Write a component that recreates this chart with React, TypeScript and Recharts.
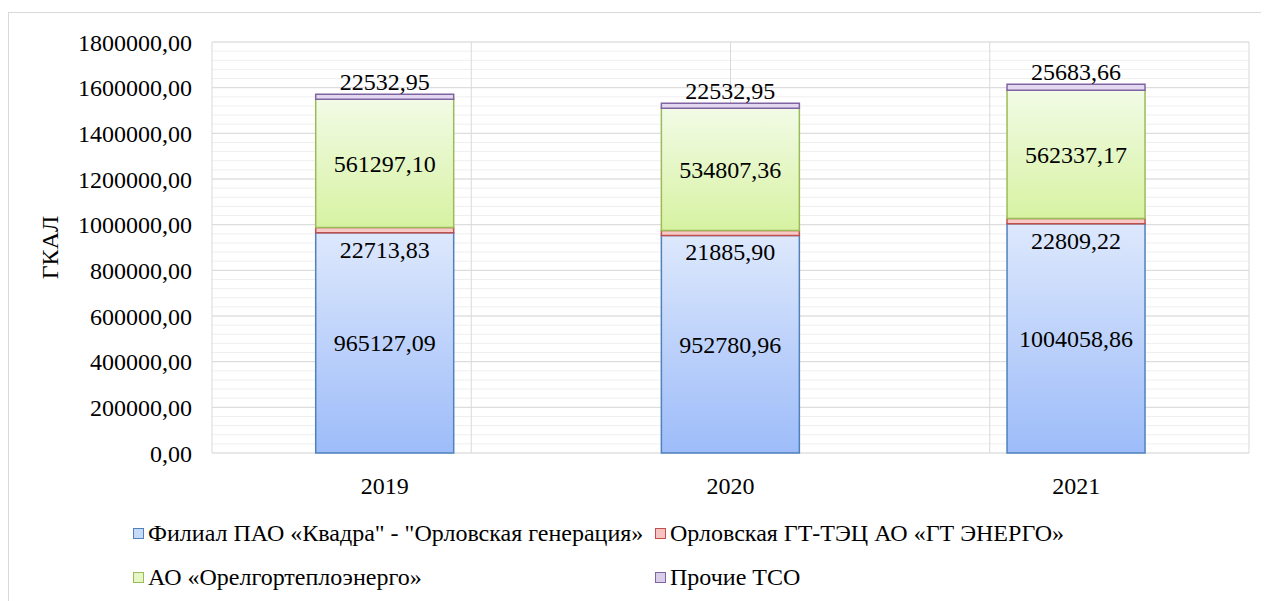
import React from 'react';
import { BarChart, Bar, XAxis, YAxis, CartesianGrid, Legend, LabelList } from 'recharts';

const YEARS = ['2019', '2020', '2021'];
const KVADRA = [965127.09, 952780.96, 1004058.86];
const GT_ENERGO = [22713.83, 21885.9, 22809.22];
const ORELGORTEPLO = [561297.1, 534807.36, 562337.17];
const OTHER_TSO = [22532.95, 22532.95, 25683.66];

const SERIES_NAMES = [
  'Филиал ПАО «Квадра" - "Орловская генерация»',
  'Орловская ГТ-ТЭЦ АО «ГТ ЭНЕРГО»',
  'АО «Орелгортеплоэнерго»',
  'Прочие ТСО',
];
const MAJOR_TICKS = [0, 200000, 400000, 600000, 800000, 1000000, 1200000, 1400000, 1600000, 1800000];
const MINOR_STEP = 40000;
// half-category positions for vertical grid lines (edges and centres of each year)
const V_GRID = [0, 0.5, 1, 1.5, 2, 2.5, 3];

const FONT = "'Liberation Serif', Tinos, 'Times New Roman', 'DejaVu Serif', serif";

const data = YEARS.map((year, i) => ({
  year,
  kvadra: KVADRA[i],
  gt: GT_ENERGO[i],
  orel: ORELGORTEPLO[i],
  other: OTHER_TSO[i],
}));

const minorTicks: number[] = [];
for (let v = 0; v <= 1800000; v += MINOR_STEP) minorTicks.push(v);

const fmt = (v: any) => Number(v).toFixed(2).replace('.', ',');

const LEGEND_SWATCH = [
  { fill: '#c6d9f7', stroke: '#4f81bd' },
  { fill: '#f6c3c1', stroke: '#c0504d' },
  { fill: '#e6f6c4', stroke: '#9bbb59' },
  { fill: '#d9cdea', stroke: '#8064a2' },
];

const BelowLabel = (props: any) => {
  const { x, y, width, height, value } = props;
  return (
    <text x={x + width / 2} y={y + height + 17} textAnchor="middle" dominantBaseline="central"
      style={{ fontFamily: FONT, fontSize: 24 }} fill="#000">
      {fmt(value)}
    </text>
  );
};

const AboveLabel = (props: any) => {
  const { x, y, width, value } = props;
  return (
    <text x={x + width / 2} y={y - 12} textAnchor="middle" dominantBaseline="central"
      style={{ fontFamily: FONT, fontSize: 24 }} fill="#000">
      {fmt(value)}
    </text>
  );
};

const LegendBox = () => (
  <div style={{ display: 'grid', gridTemplateColumns: '522px 500px', gridTemplateRows: '30px 30px', rowGap: 14, paddingLeft: 124, height: 88, fontFamily: FONT, fontSize: 24, color: '#000' }}>
    {SERIES_NAMES.map((name, i) => (
      <div key={i} style={{ display: 'flex', alignItems: 'center', whiteSpace: 'nowrap', height: 30 }}>
        <span style={{ display: 'inline-block', width: 9, height: 9, background: LEGEND_SWATCH[i].fill, border: `1px solid ${LEGEND_SWATCH[i].stroke}`, marginRight: 4 }} />
        {name}
      </div>
    ))}
  </div>
);

const tickStyle = { fontFamily: FONT, fontSize: 24, fill: '#000' };

export default function App() {
  return (
    <div style={{ paddingTop: 4, fontFamily: FONT }}>
      <svg width={0} height={0} style={{ position: 'absolute' }}>
        <defs>
          <linearGradient id="gBlue" x1="0" y1="0" x2="0" y2="1">
            <stop offset="0%" stopColor="#dde8fc" />
            <stop offset="100%" stopColor="#9dbcf9" />
          </linearGradient>
          <linearGradient id="gGreen" x1="0" y1="0" x2="0" y2="1">
            <stop offset="0%" stopColor="#f2fbe6" />
            <stop offset="100%" stopColor="#d7f2a2" />
          </linearGradient>
        </defs>
      </svg>
      <div style={{ border: '1px solid #d9d9d9', borderBottom: 'none', width: 1270, height: 590, background: '#fff' }}>
        <BarChart width={1260} height={588} data={data} barCategoryGap="30%"
          margin={{ top: 29, right: 20, left: 0, bottom: 10 }} style={{ fontFamily: FONT }}>
          <CartesianGrid vertical={false} stroke="#efefef" yAxisId="minor" />
          <CartesianGrid horizontal={false} stroke="#d9d9d9" xAxisId="half" />
          <CartesianGrid vertical={false} stroke="#d9d9d9" />
          <XAxis dataKey="year" axisLine={false} tickLine={false} tickSize={0} tickMargin={24} height={50}
            tick={tickStyle} />
          <XAxis xAxisId="half" type="number" domain={[0, 3]} ticks={V_GRID} allowDataOverflow hide />
          <YAxis domain={[0, 1800000]} ticks={MAJOR_TICKS} interval={0} width={203} axisLine={false} tickLine={false}
            tickSize={0} tickMargin={20} tickFormatter={fmt}
            tick={tickStyle}
            label={{
              content: (p: any) => {
                const vb = p.viewBox;
                const cx = vb.x + 41;
                const cy = vb.y + vb.height / 2;
                return (
                  <text x={cx} y={cy} transform={`rotate(-90, ${cx}, ${cy})`} textAnchor="middle"
                    dominantBaseline="central" style={{ fontFamily: FONT, fontSize: 24 }} fill="#000">ГКАЛ</text>
                );
              },
            }} />
          <YAxis yAxisId="minor" domain={[0, 1800000]} ticks={minorTicks} interval={0} allowDataOverflow hide />
          <Legend verticalAlign="bottom" content={<LegendBox />} wrapperStyle={{ left: 0, top: 505, width: 1260 }} />
          <Bar dataKey="kvadra" name={SERIES_NAMES[0]} stackId="a" fill="url(#gBlue)" stroke="#4f81bd" strokeWidth={1.5} isAnimationActive={false}>
            <LabelList dataKey="kvadra" position="center" formatter={fmt} style={tickStyle} />
          </Bar>
          <Bar dataKey="gt" name={SERIES_NAMES[1]} stackId="a" fill="#f8cac7" stroke="#c0504d" strokeWidth={1.5} isAnimationActive={false}>
            <LabelList dataKey="gt" content={<BelowLabel />} />
          </Bar>
          <Bar dataKey="orel" name={SERIES_NAMES[2]} stackId="a" fill="url(#gGreen)" stroke="#9bbb59" strokeWidth={1.5} isAnimationActive={false}>
            <LabelList dataKey="orel" position="center" formatter={fmt} style={tickStyle} />
          </Bar>
          <Bar dataKey="other" name={SERIES_NAMES[3]} stackId="a" fill="#e2d9f1" stroke="#8064a2" strokeWidth={1.5} isAnimationActive={false}>
            <LabelList dataKey="other" content={<AboveLabel />} />
          </Bar>
        </BarChart>
      </div>
    </div>
  );
}
